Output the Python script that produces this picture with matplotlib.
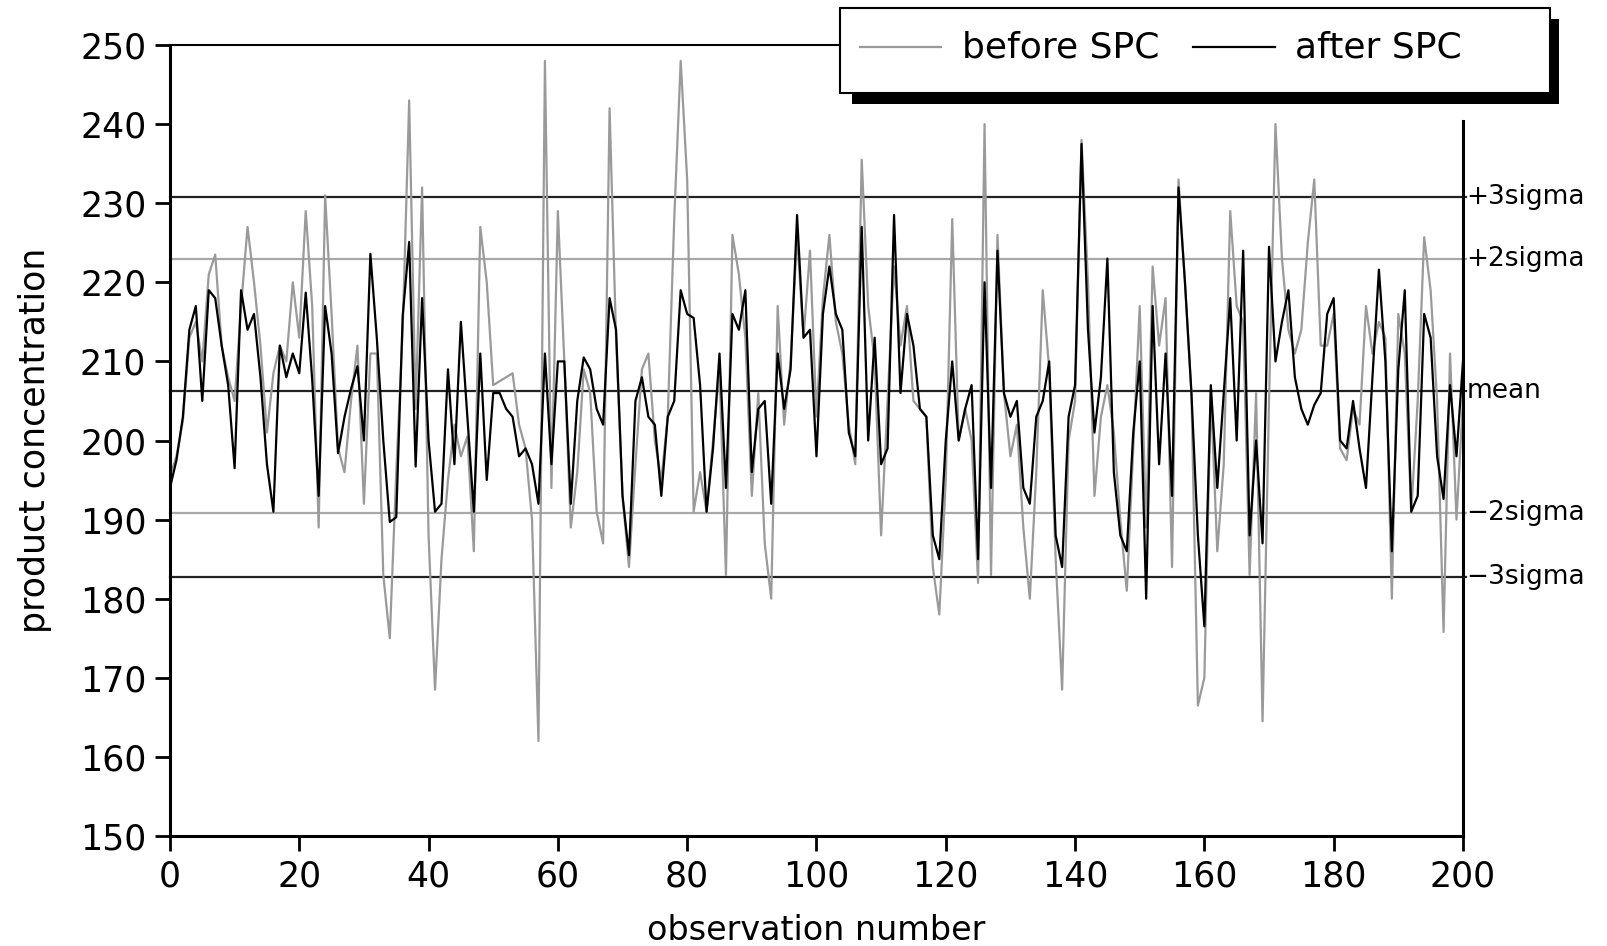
import matplotlib
matplotlib.use("Agg")
import matplotlib.pyplot as plt
from matplotlib.patches import Rectangle
from matplotlib.lines import Line2D

# product concentration per observation
before_spc = [195.5, 198, 202.5, 213, 215, 210, 221, 223.5, 212, 208,
              205, 217, 227, 220, 212, 201, 208.5, 212, 210, 220,
              213, 229, 217, 189, 231, 216, 199, 196, 205, 212,
              192, 211, 211, 183, 175, 196, 214, 243, 204, 232,
              188, 168.5, 185, 195, 202, 198, 200.5, 186, 227, 220,
              207, 207.5, 208, 208.5, 202, 199, 190, 162, 248, 194,
              229, 210, 189, 196, 209, 206, 191, 187, 242, 213,
              193, 184, 197, 209, 211, 200, 195, 203, 228, 248,
              233, 191, 196, 191, 200, 209, 183, 226, 221, 213,
              193, 206, 187, 180, 217, 202, 210, 226, 213, 224,
              203, 218, 226, 215, 211, 202, 197, 235.5, 217, 210,
              188, 205, 222, 212, 217, 205, 204, 203, 184, 178,
              195, 228, 200, 204, 200, 182, 240, 183, 226, 206,
              198, 202, 189, 180, 196, 219, 209, 185, 168.5, 200,
              205, 238, 220, 193, 203, 207, 201, 190, 181, 199,
              217, 189, 222, 212, 218, 184, 233, 220, 206, 166.5,
              170, 206, 186, 197, 229, 217, 215, 183, 206, 164.5,
              205, 240, 223, 214, 211, 214, 225, 233, 212, 212,
              216, 199, 197.5, 204, 202, 217, 211, 215, 213, 180,
              216, 211, 191, 205, 225.7, 219, 205, 175.8, 211, 190,
              205]

after_spc = [194, 197.5, 203, 214, 217, 205, 219, 218, 212, 207,
             196.5, 219, 214, 216, 208, 197, 191, 212, 208, 211,
             208.5, 218.7, 207.7, 193, 217, 211, 198.4, 203, 206.5, 209.4,
             200, 223.6, 212.9, 200, 189.7, 190.3, 215.8, 225.1, 196.7, 218,
             200, 191, 192, 209, 197, 215, 203, 191, 211, 195,
             206, 206, 204, 203, 198, 199, 197, 192, 211, 197,
             210, 210, 192, 205, 210.5, 209, 204, 202, 218, 214,
             193, 185.5, 205, 208, 203, 202, 193, 203, 205, 219,
             216, 215.5, 207, 191, 199, 211, 194, 216, 214, 219,
             196, 204, 205, 192, 211, 204, 209, 228.5, 213, 214,
             198, 216, 222, 216, 214, 201, 198, 227, 200, 213,
             197, 199, 228.5, 206, 216, 212, 204, 203, 188, 185,
             200, 210, 200, 204, 207, 185, 220, 194, 224, 206,
             203, 205, 194, 192, 203, 205, 210, 188, 184, 203,
             207, 237.5, 214, 201, 208, 223, 196, 188, 186, 201,
             210, 180, 217, 197, 211, 193, 232, 220, 206, 188,
             176.5, 207, 194, 206, 218, 200, 224, 188, 200, 187,
             224.5, 210, 215, 219, 208, 204, 202, 204.5, 206, 216,
             218, 200, 199, 205, 199, 194, 208, 221.6, 210, 186,
             209, 219, 191, 193, 216, 213, 198, 192.6, 207, 198,
             210]

obs = list(range(len(after_spc)))

limit_names = ["+3sigma", "+2sigma", "mean", "\u22122sigma", "\u22123sigma"]
limit_values = [230.8, 223.0, 206.2, 190.8, 182.7]
limit_colors = ["#222222", "#a8a8a8", "#222222", "#a8a8a8", "#222222"]

GRAY = "#9a9a9a"

fig = plt.figure(figsize=(16.08, 9.46), dpi=100)
ax = fig.add_axes([0.1057, 0.1163, 0.8041, 0.8361])

for val, col in zip(limit_values, limit_colors):
    ax.plot([0, 200.4], [val, val], color=col, lw=1.6, clip_on=False, zorder=1)

ax.plot(obs, before_spc, color=GRAY, lw=1.6, zorder=2)
ax.plot(obs, after_spc, color="black", lw=1.6, zorder=3)

for name, val in zip(limit_names, limit_values):
    ax.text(200.5, val, name, fontsize=19, va="center", ha="left",
            transform=ax.transData, clip_on=False)

ax.set_xlim(0, 200)
ax.set_ylim(150, 250)
ax.set_xticks(range(0, 201, 20))
ax.set_yticks(range(150, 251, 10))
ax.tick_params(axis="both", direction="out", length=11, width=2,
               labelsize=25, pad=6)

for side in ["left", "bottom", "right"]:
    ax.spines[side].set_linewidth(2.2)
ax.spines["top"].set_linewidth(1.5)
ax.spines["right"].set_bounds(150, 240.4)

ax.set_xlabel("observation number", fontsize=24)
ax.set_ylabel("product concentration", fontsize=25)
ax.xaxis.set_label_coords(0.5, -0.099)
ax.yaxis.set_label_coords(-0.091, 0.5)


# legend drawn by hand: white box with black drop shadow (pixel coords)
def fx(px):
    return px / 1608


def fy(py):
    return 1 - py / 946


fig.add_artist(Rectangle((fx(852), fy(104)), fx(1559) - fx(852), fy(19) - fy(104),
                         facecolor="black", edgecolor="none", zorder=10))
fig.add_artist(Rectangle((fx(840), fy(93)), fx(1550) - fx(840), fy(8) - fy(93),
                         facecolor="white", edgecolor="black", lw=1.5, zorder=11))
fig.add_artist(Line2D([fx(860), fx(941)], [fy(47), fy(47)], color=GRAY, lw=1.6, zorder=12))
fig.text(fx(962), fy(48), "before SPC", fontsize=26, va="center", ha="left", zorder=12)
fig.add_artist(Line2D([fx(1193), fx(1275)], [fy(47), fy(47)], color="black", lw=1.6, zorder=12))
fig.text(fx(1295), fy(48), "after SPC", fontsize=26, va="center", ha="left", zorder=12)

fig.savefig("out.png", dpi=100)
